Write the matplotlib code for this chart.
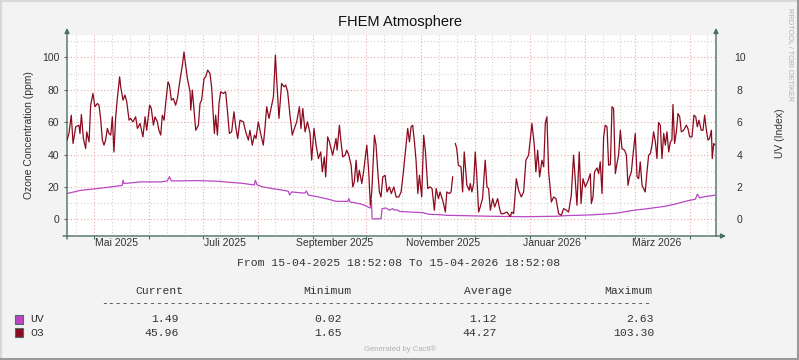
"""FHEM Atmosphere - rrdtool style graph (O3 + UV, one year)."""
from datetime import datetime, timedelta

import numpy as np
import matplotlib
matplotlib.use("Agg")
import matplotlib.pyplot as plt
import matplotlib.dates as mdates
from matplotlib.lines import Line2D
from matplotlib.patches import Rectangle

START = datetime(2025, 4, 15, 18, 52, 8)

# ---- data (days after START, value) ----
o3_days = [
    0, 1.1, 2.4, 3.4, 4.9, 6.7, 7.3, 8.1, 9.2, 10.5, 11.1, 12.4, 13.3, 14.6, 15.7,
    17.1, 18.0, 18.9, 19.9, 20.8, 21.7, 22.7, 23.6, 24.6, 25.5, 26.4, 27.4, 28.3,
    29.6, 30.2, 31.5, 32.6, 33.6, 34.9, 35.8, 37.1, 38.6, 39.6, 41.1, 42.7, 43.9,
    44.8, 46.5, 47.4, 48.6, 49.5, 50.8, 51.7, 52.7, 53.6, 54.6, 55.5, 56.8, 57.6,
    58.7, 59.8, 61.1, 62.1, 63.4, 64.9, 65.8, 66.7, 67.7, 69.2, 69.6, 70.5, 72.4,
    73.9,
    74.8, 75.7, 77.1, 78.0, 79.1, 80.4, 81.4, 82.3, 82.9, 83.6, 84.6, 85.5, 86.4,
    87.9, 89.2, 90.2, 91.3, 92.6, 93.9, 94.9, 96.0, 97.3, 99.2, 100.5, 102.0,
    102.9, 104.2, 105.4, 106.3, 107.6, 108.9, 110.4, 111.4, 112.3, 113.6, 115.1,
    116.1, 117.2, 117.9, 119.2, 120.7, 122.1, 123.0, 124.1, 125.4, 126.7, 128.2,
    129.2, 130.7, 131.6, 132.6, 133.9, 135.2, 136.7, 137.6, 138.9, 140.1, 141.4,
    142.7, 143.6, 144.7, 145.5,
    146.6, 147.6, 149.4, 151.3, 151.9, 153.2, 154.1, 155.1, 156.4, 157.3, 158.5,
    159.8, 160.7, 161.6, 162.6, 163.5, 164.4, 165.8, 166.9, 168.6, 169.7, 170.6,
    171.4, 172.9, 173.8, 174.8, 175.7, 176.6, 177.6, 178.9, 180.0, 181.3, 182.4,
    183.8, 185.1, 186.6, 187.9, 189.2, 190.7, 191.6, 192.6, 193.5, 194.4, 195.4,
    196.3, 197.3, 198.2, 199.5, 200.6, 201.6, 202.9, 204.2, 205.3, 206.6, 207.6,
    208.9, 209.8, 211.3, 212.8, 213.6, 215.1, 216.0, 216.9, 217.6, 218.4, 219.2,
    220.1, 221.6,
    222.5, 223.4, 224.9, 226.2, 226.8, 227.7, 228.7, 229.6, 230.5, 231.5, 232.4,
    233.7, 235.2, 236.2, 237.1, 238.1, 239.4, 240.5, 242.2, 243.3, 244.1, 245.5,
    247.4, 249.3, 250.2, 251.2, 252.7, 254.0, 255.5, 256.8, 258.1, 259.6, 261.5,
    262.8, 263.7, 264.7, 265.8, 267.1, 268.1, 269.0, 269.9, 270.9, 272.4, 273.7,
    275.0, 276.5, 278.0, 279.3, 280.8, 282.1, 283.6, 284.9, 286.8, 288.1, 289.1,
    290.2, 291.5, 292.8, 294.3,
    294.9, 295.8, 296.7, 298.1, 299.0, 299.9, 300.9, 301.8, 302.7, 303.7, 304.6,
    305.6, 306.5, 307.4, 308.4, 309.3, 310.2, 311.2, 312.1, 313.6, 314.6, 315.5,
    316.4, 317.4, 318.3, 319.6, 320.6, 321.5, 322.4, 323.4, 324.3, 325.2, 326.2,
    327.1, 328.1, 329.0, 329.9, 330.9, 331.8, 332.7, 333.7, 334.6, 335.6, 336.5,
    337.4, 338.4, 339.3, 340.2, 340.8, 341.7, 342.7, 343.6, 344.6, 345.5, 346.8,
    348.3, 349.2, 350.2, 351.5, 352.6, 353.6, 354.5, 355.4, 356.7, 357.7, 358.6,
    359.6, 360.5, 361.4, 362.4, 362.9, 363.7, 364.3,
]
o3_ppm = [
    48.9, 53.0, 64.3, 46.8, 57.1, 58.1, 53.0, 64.7, 49.9, 43.7, 54.0, 47.8, 70.5,
    77.7, 69.5, 71.5, 70.5, 62.3, 48.9, 45.8, 48.9, 56.1, 53.0, 52.0, 63.3, 41.6,
    63.3, 74.6, 88.0, 81.8, 73.6, 76.7, 72.6, 61.2, 62.3, 60.2, 63.3, 56.1, 59.2,
    50.9, 63.3, 55.0, 70.5, 68.4, 58.1, 63.3, 60.2, 55.0, 52.0, 64.3, 61.2, 71.5,
    84.9, 82.9, 73.6, 74.6, 70.5, 74.6, 84.9, 95.2, 103.3, 95.2, 87.0, 78.7, 67.4,
    79.8, 55.0, 58.1,
    71.5, 73.6, 87.0, 88.0, 92.1, 90.1, 80.8, 63.3, 53.0, 64.3, 52.0, 71.5, 78.7,
    77.7, 78.7, 67.4, 53.0, 54.0, 66.4, 57.1, 49.9, 61.2, 60.2, 54.0, 48.9, 55.0,
    45.8, 52.0, 49.9, 60.2, 53.0, 45.8, 57.1, 69.5, 62.3, 70.5, 75.7, 101.4, 87.0,
    62.3, 83.9, 81.8, 82.9, 78.7, 64.3, 52.0, 57.1, 60.2, 69.5, 56.1, 68.4, 54.0,
    60.2, 53.0, 36.5, 56.1, 45.8, 37.5, 41.6, 29.3, 38.5, 26.2,
    50.9, 47.8, 39.6, 49.9, 42.7, 58.1, 47.8, 38.5, 39.6, 42.7, 39.6, 33.4, 20.0,
    23.1, 36.5, 23.1, 30.3, 22.1, 30.3, 45.8, 29.3, 8.7, 16.9, 51.9, 45.8, 29.3,
    16.9, 13.8, 26.2, 27.2, 16.9, 20.0, 15.9, 20.0, 13.8, 13.8, 16.9, 29.3, 45.8,
    56.1, 47.8, 57.1, 58.1, 47.8, 36.5, 15.9, 27.2, 13.8, 51.9, 41.6, 19.0, 20.0,
    19.0, 5.6, 19.0, 12.8, 16.9, 11.8, 4.5, 16.9, 15.9, 16.9, 26.2, np.nan, 46.8,
    43.7, 33.4, 32.4,
    16.9, 41.6, 21.0, 17.9, 22.1, 16.9, 22.1, 41.6, 26.2, 4.5, 7.6, 12.8, 36.5,
    20.0, 19.0, 5.6, 12.8, 7.6, 12.8, 6.6, 3.5, 3.5, 4.5, 1.65, 4.5, 3.5, 25.1,
    17.9, 13.8, 16.9, 36.5, 39.6, 59.2, 45.8, 29.3, 42.7, 26.2, 36.5, 32.4, 59.2,
    63.3, 29.3, 10.7, 13.8, 12.8, 3.5, 2.5, 6.6, 5.6, 4.5, 14.8, 39.6, 8.7, 41.6,
    9.7, 25.1, 20.0, 23.1, 28.2,
    9.7, 13.8, 29.3, 31.7, 28.2, 35.5, 15.9, 50.9, 58.1, 57.1, 33.4, 33.8, 69.5,
    68.4, 28.2, 34.4, 39.6, 55.0, 43.7, 42.7, 39.6, 21.0, 26.2, 29.3, 39.6, 53.0,
    26.2, 25.1, 35.5, 21.0, 19.0, 16.9, 29.3, 39.6, 40.6, 45.8, 54.0, 47.8, 37.5,
    59.8, 58.1, 37.5, 53.0, 45.8, 54.0, 41.6, 47.8, 48.9, 70.9, 46.8, 54.0, 65.3,
    63.3, 54.0, 55.0, 58.1, 56.1, 50.9, 50.9, 64.3, 63.3, 57.1, 61.2, 55.0, 55.0,
    64.3, 55.0, 48.9, 49.9, 55.0, 37.5, 46.8, 45.96,
]

uv_days = [
    0, 7.7, 17.1, 24.6, 30.2, 31.1, 31.5, 32.1, 35.8, 41.4, 52.7, 56.4, 57.6, 58.7,
    73.3, 85.1, 90.7, 98.2, 103.9, 105.4, 105.9, 106.9, 109.5, 115.1, 120.7, 124.5,
    125.2, 126.4, 132.0, 133.9, 134.6, 135.7, 141.4, 147.0, 151.3, 157.9, 158.5,
    159.2, 164.4, 167.3, 169.7, 170.6, 171.2, 171.6, 172.0, 176.6, 177.2, 179.4,
    181.3, 183.2, 184.1, 185.4, 186.9, 192.6, 200.1, 203.8, 209.4, 213.2, 221.6,
    238.0, 256.8, 275.5, 281.2, 294.3, 300.5, 308.0, 309.9, 317.4, 326.7, 336.1,
    341.7, 349.2, 353.4, 354.5, 355.8, 357.7, 364.3,
]
uv_index = [
    1.59, 1.79, 1.90, 2.00, 2.08, 2.10, 2.41, 2.21, 2.25, 2.31, 2.31, 2.37, 2.63,
    2.37, 2.39, 2.35, 2.29, 2.23, 2.14, 2.12, 2.41, 2.14, 2.02, 1.90, 1.81, 1.73,
    1.50, 1.69, 1.63, 1.63, 1.75, 1.50, 1.38, 1.24, 1.11, 1.11, 1.28, 1.07, 0.97,
    0.87, 0.74, 0.70, 1.17, 0.08, 0.02, 0.04, 0.66, 0.70, 0.56, 0.66, 0.56, 0.60,
    0.49, 0.45, 0.41, 0.31, 0.29, 0.25, 0.23, 0.19, 0.16, 0.19, 0.23, 0.27, 0.31,
    0.37, 0.39, 0.54, 0.66, 0.80, 0.93, 1.15, 1.24, 1.55, 1.32, 1.38, 1.49,
]

month_labels = ["Mai 2025", "Juli 2025", "September 2025",
                "November 2025", "Januar 2026", "März 2026"]
month_label_dates = [datetime(2025, 5, 13, 12), datetime(2025, 7, 13, 12),
                     datetime(2025, 9, 13, 12), datetime(2025, 11, 13, 12),
                     datetime(2026, 1, 13, 12), datetime(2026, 3, 13, 12)]

legend_names = ["UV", "O3"]
legend_current = ["1.49", "45.96"]
legend_minimum = ["0.02", "1.65"]
legend_average = ["1.12", "44.27"]
legend_maximum = ["2.63", "103.30"]

C_UV = "#B946C4"
C_O3 = "#8C0A1E"
C_AXIS = "#4B6E60"
C_MGRID = "#EBA9A9"
C_GRID = "#D2D2D2"
C_BACK = "#F3F3F3"
C_TEXT = "#333333"

W, H = 799, 360


def fx(px):
    return px / W


def fy(py):
    return 1 - py / H


def uv_index_scaled():
    # UV shares the left scale: 1 UV index == 10 ppm
    return [v * 10 for v in uv_index]


def render():
    fig = plt.figure(figsize=(W / 100, H / 100), dpi=100, facecolor=C_BACK)

    # frame of the image
    fig.add_artist(Line2D([0, 1], [fy(0.5), fy(0.5)], color="#D8D8D8", lw=1.5))
    fig.add_artist(Line2D([fx(0.5), fx(0.5)], [0, 1], color="#D8D8D8", lw=1.5))
    fig.add_artist(Line2D([0, 1], [fy(359.3), fy(359.3)], color="#9A9A9A", lw=1.5))
    fig.add_artist(Line2D([fx(798.3), fx(798.3)], [0, 1], color="#9A9A9A", lw=1.5))

    ax = fig.add_axes([fx(67), fy(236), fx(716 - 67), (236 - 35) / H])
    ax.set_facecolor("white")
    for s in ax.spines.values():
        s.set_visible(False)

    x_o3 = [START + timedelta(days=d) for d in o3_days]
    x_uv = [START + timedelta(days=d) for d in uv_days]

    ax.set_xlim(START, START + timedelta(days=365))
    ax.set_ylim(-10.3, 113.8)

    # grid
    ax.xaxis.set_major_locator(mdates.MonthLocator())
    ax.xaxis.set_minor_locator(mdates.DayLocator(bymonthday=[11, 21]))
    ax.xaxis.set_major_formatter(plt.NullFormatter())
    ax.set_yticks(np.arange(0, 101, 20))
    ax.set_yticks(np.arange(-10, 111, 10), minor=True)
    ax.grid(which="minor", color=C_GRID, lw=0.8, ls=(0, (1, 2)))
    ax.grid(which="major", color=C_MGRID, lw=0.8, ls=(0, (1, 2)))
    ax.set_axisbelow(True)

    ax.tick_params(axis="x", which="major", length=2.5, color=C_AXIS, width=0.8)
    ax.tick_params(axis="x", which="minor", length=0)
    ax.tick_params(axis="y", which="major", length=2.5, color=C_AXIS, width=0.8,
                   labelsize=7.5, labelcolor=C_TEXT, pad=3)
    ax.tick_params(axis="y", which="minor", length=0)
    for lab in ax.get_yticklabels():
        lab.set_fontfamily("Liberation Sans")

    ax.plot(x_uv, uv_index_scaled(), color=C_UV, lw=0.9, zorder=3)
    ax.plot(x_o3, o3_ppm, color=C_O3, lw=0.9, zorder=4)

    xt = ax.get_xaxis_transform()
    for d, lab in zip(month_label_dates, month_labels):
        ax.text(d, -0.037, lab, transform=xt, ha="center", va="center",
                fontsize=7.5, family="Liberation Sans", color=C_TEXT)

    ax.set_ylabel("Ozone Concentration (ppm)", fontsize=7.5,
                  family="Liberation Sans", color=C_TEXT, labelpad=6)

    ax2 = ax.twinx()
    ax2.set_ylim(-1.03, 11.38)
    ax2.set_yticks(np.arange(0, 11, 2))
    for s in ax2.spines.values():
        s.set_visible(False)
    ax2.tick_params(axis="y", length=0, labelsize=7.5, labelcolor=C_TEXT, pad=17)
    for lab in ax2.get_yticklabels():
        lab.set_fontfamily("Liberation Sans")
        lab.set_horizontalalignment("center")
    ax2.set_ylabel("UV (Index)", fontsize=7.5, family="Liberation Sans",
                   color=C_TEXT)
    ax2.yaxis.set_label_coords(1 + (775 - 716) / 649, 0.51)

    # axes with arrows
    ap = dict(arrowstyle="-|>", color=C_AXIS, lw=1.0, mutation_scale=7,
              shrinkA=0, shrinkB=0)
    ax.annotate("", xy=(fx(67), fy(28)), xytext=(fx(67), fy(239)),
                xycoords="figure fraction", arrowprops=ap, annotation_clip=False)
    ax.annotate("", xy=(fx(716), fy(28)), xytext=(fx(716), fy(236)),
                xycoords="figure fraction", arrowprops=ap, annotation_clip=False)
    ax.annotate("", xy=(fx(726), fy(236)), xytext=(fx(63), fy(236)),
                xycoords="figure fraction", arrowprops=ap, annotation_clip=False)

    # texts
    fig.text(0.5, fy(22), "FHEM Atmosphere", ha="center", va="center",
             fontsize=10.5, family="Liberation Sans", color="#111111")
    fig.text(fx(790), fy(55), "RRDTOOL / TOBI OETIKER", rotation=-90,
             ha="center", va="center", fontsize=5.3, family="Liberation Sans",
             color="#B0B0B0")

    mono = dict(fontsize=8.2, family="Liberation Mono", color=C_TEXT, va="center")
    fig.text(fx(399), fy(263), "From 15-04-2025 18:52:08 To 15-04-2026 18:52:08",
             ha="center", **mono)
    for x0, h in zip([135, 303.5, 464, 604.5],
                     ["Current", "Minimum", "Average", "Maximum"]):
        fig.text(fx(x0), fy(291), h, ha="left", **mono)
    fig.text(fx(101), fy(303), "-" * 80, ha="left", **mono)

    for i, (name, col) in enumerate(zip(legend_names, [C_UV, C_O3])):
        yc = 319.5 + i * 13.3
        fig.add_artist(Rectangle((fx(15.3), fy(yc + 4.5)), fx(8), 9 / H,
                                 facecolor=col, edgecolor=C_AXIS, lw=0.8))
        fig.text(fx(30), fy(yc), name, ha="left", **mono)
        for xr, vals in zip([179, 342, 497, 654],
                            [legend_current, legend_minimum, legend_average,
                             legend_maximum]):
            fig.text(fx(xr), fy(yc), vals[i], ha="right", **mono)

    fig.text(0.5, fy(349.5), "Generated by Cacti\u00ae", ha="center", va="center",
             fontsize=5.5, family="Liberation Sans", color="#B0B0B0")

    fig.savefig("out.png", dpi=100, facecolor=C_BACK)
    plt.close(fig)


if __name__ == "__main__":
    render()
